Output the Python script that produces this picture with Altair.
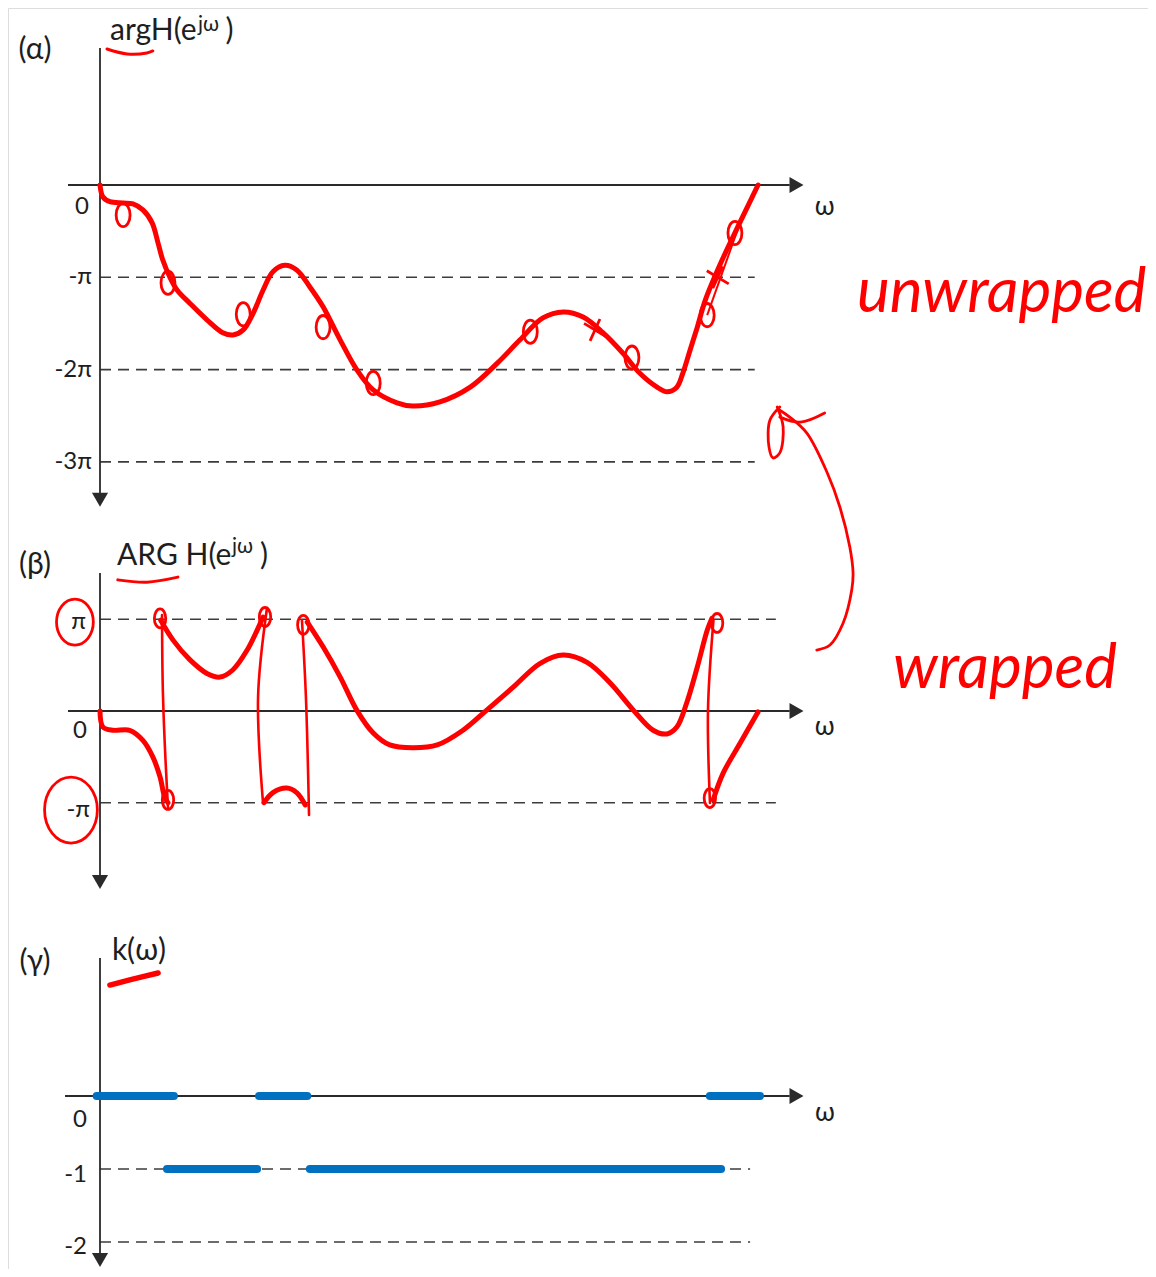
import altair as alt
import pandas as pd

# ---------------------------------------------------------------- data
# horizontal position: ω normalised so the plotted frequency range runs 0 -> 1
# phase values are in units of π

# (α) unwrapped phase argH(e^{jω})
alpha_w = [0, 0.0045, 0.015, 0.035, 0.05, 0.065, 0.079, 0.088, 0.095, 0.106, 0.117, 0.136,
           0.162, 0.186, 0.2015, 0.217, 0.232, 0.247, 0.262, 0.28, 0.298, 0.318, 0.338, 0.364,
           0.389, 0.414, 0.45, 0.474, 0.515, 0.561, 0.602, 0.636, 0.671, 0.702, 0.732, 0.762,
           0.792, 0.818, 0.844, 0.859, 0.874, 0.883, 0.894, 0.905, 0.917, 0.939, 0.970, 0.997]
alpha_phase = [0, -0.13, -0.18, -0.195, -0.205, -0.27, -0.41, -0.63, -0.81, -1.0, -1.14, -1.28,
               -1.46, -1.60, -1.625, -1.57, -1.39, -1.14, -0.94, -0.87, -0.92, -1.105, -1.32, -1.68,
               -2.0, -2.22, -2.36, -2.395, -2.35, -2.19, -1.93, -1.68, -1.44, -1.375, -1.43, -1.60,
               -1.82, -2.04, -2.19, -2.24, -2.19, -2.04, -1.79, -1.54, -1.25, -0.87, -0.40, 0.0]
alpha_ticks = [-1, -2, -3]
alpha_tick_labels = ["-π", "-2π", "-3π"]
alpha_loops_w = [0.035, 0.103, 0.217, 0.338, 0.414, 0.652, 0.806, 0.92, 0.962]
alpha_loops_v = [-0.325, -1.06, -1.40, -1.54, -2.145, -1.59, -1.87, -1.41, -0.52]
alpha_cross_w = [0.75, 0.936]
alpha_cross_v = [-1.57, -1.0]
alpha_trace_w = [0.92, 0.967]
alpha_trace_v = [-1.41, -0.466]
alpha_ul_w = [0.0106, 0.041, 0.071, 0.080]
alpha_ul_v = [1.473, 1.419, 1.43, 1.452]

# (β) wrapped phase ARG H(e^{jω}) – continuous pieces
beta_segments_w = [
    [0, 0.0045, 0.02, 0.045, 0.065, 0.08, 0.091, 0.098, 0.103],
    [0.092, 0.111, 0.136, 0.162, 0.182, 0.2015, 0.223, 0.238, 0.247],
    [0.2485, 0.262, 0.283, 0.298, 0.311],
    [0.314, 0.338, 0.364, 0.389, 0.414, 0.439, 0.474, 0.511, 0.55, 0.586, 0.626, 0.667,
     0.702, 0.738, 0.773, 0.808, 0.838, 0.859, 0.874, 0.889, 0.905, 0.92, 0.927],
    [0.929, 0.944, 0.97, 0.997],
]
beta_segments_v = [
    [0, -0.175, -0.21, -0.21, -0.32, -0.50, -0.72, -0.94, -1.0],
    [0.99, 0.77, 0.56, 0.41, 0.37, 0.45, 0.665, 0.88, 1.025],
    [-1.0, -0.89, -0.84, -0.89, -1.025],
    [0.97, 0.70, 0.37, 0.01, -0.24, -0.37, -0.40, -0.37, -0.21, 0.01, 0.26, 0.52,
     0.61, 0.53, 0.305, 0.01, -0.21, -0.25, -0.175, 0.09, 0.48, 0.88, 1.01],
    [-0.97, -0.68, -0.35, -0.01],
]
# hand-drawn 2π jumps
beta_jumps_w = [[0.094, 0.0955, 0.103], [0.253, 0.2395, 0.247],
                [0.306, 0.312, 0.3167], [0.9295, 0.9212, 0.9242]]
beta_jumps_v = [[1.047, 0.153, -1.047], [1.123, 0.153, -1.0],
                [0.99, 0.153, -1.134], [0.992, 0.011, -1.003]]
beta_ticks = [1, -1]
beta_tick_labels = ["π", "-π"]
beta_loops_w = [0.091, 0.25, 0.308, 0.103, 0.935, 0.924]
beta_loops_v = [1.01, 1.025, 0.94, -0.97, 0.96, -0.95]
beta_ul_w = [0.027, 0.071, 0.118]
beta_ul_v = [1.43, 1.405, 1.46]
# arrow from "wrapped" to "unwrapped"
arrow_w = [1.086, 1.106, 1.126, 1.139, 1.141, 1.136, 1.121, 1.102, 1.071, 1.045, 1.03]
arrow_v = [0.665, 0.72, 0.96, 1.32, 1.505, 1.79, 2.225, 2.595, 3.03, 3.205, 3.28]
arrow_head_w = [1.03, 1.015, 1.0136, 1.0197, 1.03, 1.035, 1.026]
arrow_head_v = [3.315, 3.17, 2.88, 2.76, 2.815, 3.10, 3.315]
arrow_wing_w = [1.03, 1.061, 1.098]
arrow_wing_v = [3.205, 3.15, 3.25]

# (γ) k(ω): integer multiple of 2π
k_start = [-0.005, 0.241, 0.924, 0.1015, 0.318]
k_end = [0.112, 0.314, 1.0, 0.238, 0.941]
k_value = [0, 0, 0, -1, -1]
gamma_ticks = [-1, -2]
gamma_tick_labels = ["-1", "-2"]
gamma_ul_w = [0.015, 0.045, 0.088]
gamma_ul_v = [1.52, 1.59, 1.685]

# ---------------------------------------------------------------- style
RED = "#ff0000"
BLUE = "#0070c0"
INK = "#1e1e1e"
AX = "#2a2a2a"
FONT = "Lato"
W, H = 1140, 1261

xs = alt.Scale(domain=[-92 / 660, 1048 / 660], nice=False, zero=False)
ysA = alt.Scale(domain=[-1084 / 92.3, 177 / 92.3], nice=False, zero=False)
ysB = alt.Scale(domain=[-558 / 91.7, 703 / 91.7], nice=False, zero=False)
ysC = alt.Scale(domain=[-173 / 73, 1088 / 73], nice=False, zero=False)

LOOP = ("M0,-1C0.331,-1 0.6,-0.552 0.6,0C0.6,0.552 0.331,1 0,1"
        "C-0.331,1 -0.6,0.552 -0.6,0C-0.6,-0.552 -0.331,-1 0,-1Z")
ELL = ("M0,-1C0.442,-1 0.8,-0.552 0.8,0C0.8,0.552 0.442,1 0,1"
       "C-0.442,1 -0.8,0.552 -0.8,0C-0.8,-0.552 -0.442,-1 0,-1Z")
XMARK = "M-1,-0.6L1,0.6M-0.45,1L0.45,-1"


def P(ys):
    return dict(x=alt.X("t:Q", scale=xs, axis=None), y=alt.Y("v:Q", scale=ys, axis=None))


def pts(w, v):
    return pd.DataFrame({"t": w, "v": v, "i": range(len(w))})


def segs(ws, vs):
    rows = []
    for s, (w, v) in enumerate(zip(ws, vs)):
        for i, (a, b) in enumerate(zip(w, v)):
            rows.append({"t": a, "v": b, "s": s, "i": i})
    return pd.DataFrame(rows)


def hrule(ys, t0, t1, vals, **kw):
    df = pd.DataFrame({"t": [t0] * len(vals), "t2": [t1] * len(vals), "v": vals})
    return alt.Chart(df).mark_rule(**kw).encode(**P(ys), x2="t2:Q")


def vrule(ys, t, v0, v1, **kw):
    df = pd.DataFrame({"t": [t], "v": [v0], "v2": [v1]})
    return alt.Chart(df).mark_rule(**kw).encode(**P(ys), y2="v2:Q")


def point(ys, w, v, **kw):
    return alt.Chart(pts(w, v)).mark_point(**kw).encode(**P(ys))


def text(ys, w, v, labels, **kw):
    df = pd.DataFrame({"t": w, "v": v, "label": labels})
    return alt.Chart(df).mark_text(**kw).encode(**P(ys), text="label:N")


def line(ys, df, detail=None, **kw):
    enc = dict(P(ys), order="i:Q")
    if detail:
        enc["detail"] = detail
    return alt.Chart(df).mark_line(**kw).encode(**enc)


axis_kw = dict(color=AX, strokeWidth=1.8)
dash_kw = dict(color="#3c3c3c", strokeWidth=1.6, strokeDash=[11, 7])
tick_kw = dict(font=FONT, fontSize=24, color=INK, baseline="middle")
omega_kw = dict(font=FONT, fontSize=26, color=INK, baseline="middle", align="center")
title_kw = dict(font=FONT, fontSize=30, color=INK, align="left", baseline="alphabetic")
sup_kw = dict(font=FONT, fontSize=21, color=INK, align="left", baseline="alphabetic")
tag_kw = dict(font=FONT, fontSize=30, color=INK, align="center", baseline="middle")
hand_kw = dict(font=FONT, fontSize=62, fontStyle="italic", color=RED, align="left",
               baseline="alphabetic")
curve_kw = dict(color=RED, strokeWidth=5, interpolate="catmull-rom", strokeCap="round",
                strokeJoin="round")
loop_kw = dict(shape=LOOP, filled=False, color=RED, strokeWidth=2.8, opacity=1)


def arrows(ys, t_right, v_down):
    right = point(ys, [t_right], [0], shape="triangle-right", filled=True, color=AX,
                  size=260, opacity=1)
    down = point(ys, [0], [v_down], shape="triangle-down", filled=True, color=AX,
                 size=260, opacity=1)
    return right, down


# ---------------------------------------------------------------- panel α
aR, aD = arrows(ysA, 1.0553, -3.41)
panelA = alt.layer(
    hrule(ysA, 0, 0.992, alpha_ticks, **dash_kw),
    hrule(ysA, -0.0485, 1.045, [0], **axis_kw),
    vrule(ysA, 0, 1.484, -3.36, **axis_kw),
    aR, aD,
    line(ysA, pts(alpha_w, alpha_phase), **curve_kw),
    line(ysA, pts(alpha_trace_w, alpha_trace_v), color=RED, strokeWidth=2),
    point(ysA, alpha_loops_w, alpha_loops_v, size=540, **loop_kw),
    point(ysA, alpha_cross_w, alpha_cross_v, shape=XMARK, filled=False, color=RED,
          strokeWidth=2.8, size=480, opacity=1),
    line(ysA, pts(alpha_ul_w, alpha_ul_v), color=RED, strokeWidth=3,
         interpolate="catmull-rom", strokeCap="round"),
    text(ysA, [-0.0273], [-0.238], ["0"], align="center", **tick_kw),
    text(ysA, [-0.0121] * 3, alpha_ticks, alpha_tick_labels, align="right", **tick_kw),
    text(ysA, [1.098], [-0.238], ["ω"], **omega_kw),
    text(ysA, [-0.0985], [1.463], ["(α)"], **tag_kw),
    text(ysA, [0.0152], [1.571], ["argH(e"], **title_kw),
    text(ysA, [0.1485], [1.668], ["jω"], **sup_kw),
    text(ysA, [0.19], [1.571], [")"], **title_kw),
    text(ysA, [1.147], [-1.376], ["unwrapped"], **hand_kw),
)

# ---------------------------------------------------------------- panel β
bR, bD = arrows(ysB, 1.0553, -1.865)
panelB = alt.layer(
    hrule(ysB, 0, 1.024, beta_ticks, **dash_kw),
    hrule(ysB, -0.0485, 1.045, [0], **axis_kw),
    vrule(ysB, 0, 1.505, -1.82, **axis_kw),
    bR, bD,
    line(ysB, segs(beta_segments_w, beta_segments_v), detail="s:N", **curve_kw),
    line(ysB, segs(beta_jumps_w, beta_jumps_v), detail="s:N", color=RED, strokeWidth=2.6,
         interpolate="catmull-rom", strokeCap="round"),
    point(ysB, beta_loops_w, beta_loops_v, size=360, **loop_kw),
    point(ysB, [-0.038], [0.97], shape=ELL, filled=False, color=RED, strokeWidth=2.8,
          size=2116, opacity=1),
    point(ysB, [-0.044], [-1.08], shape=ELL, filled=False, color=RED, strokeWidth=2.8,
          size=4356, opacity=1),
    line(ysB, pts(beta_ul_w, beta_ul_v), color=RED, strokeWidth=3,
         interpolate="catmull-rom", strokeCap="round"),
    line(ysB, pts(arrow_w, arrow_v), color=RED, strokeWidth=2.8,
         interpolate="catmull-rom", strokeCap="round"),
    line(ysB, pts(arrow_head_w, arrow_head_v), color=RED, strokeWidth=2.8,
         interpolate="catmull-rom", strokeCap="round"),
    line(ysB, pts(arrow_wing_w, arrow_wing_v), color=RED, strokeWidth=2.8,
         interpolate="catmull-rom", strokeCap="round"),
    text(ysB, [-0.0303], [-0.218], ["0"], align="center", **tick_kw),
    text(ysB, [-0.021, -0.015], [0.97, -1.08], beta_tick_labels, align="right", **tick_kw),
    text(ysB, [1.098], [-0.175], ["ω"], **omega_kw),
    text(ysB, [-0.0985], [1.592], ["(β)"], **tag_kw),
    text(ysB, [0.0258], [1.592], ["ARG H(e"], **title_kw),
    text(ysB, [0.2], [1.723], ["jω"], **sup_kw),
    text(ysB, [0.2424], [1.592], [")"], **title_kw),
    text(ysB, [1.2015], [0.25], ["wrapped"], **hand_kw),
)

# ---------------------------------------------------------------- panel γ
cR, cD = arrows(ysC, 1.0553, -2.247)
kdf = pd.DataFrame({"t": k_start, "t2": k_end, "v": k_value})
panelC = alt.layer(
    hrule(ysC, 0, 0.985, gamma_ticks, **dash_kw),
    hrule(ysC, -0.053, 1.045, [0], **axis_kw),
    vrule(ysC, 0, 1.89, -2.18, **axis_kw),
    cR, cD,
    alt.Chart(kdf).mark_rule(color=BLUE, strokeWidth=8, strokeCap="round").encode(
        **P(ysC), x2="t2:Q"),
    line(ysC, pts(gamma_ul_w, gamma_ul_v), color=RED, strokeWidth=5.5,
         interpolate="catmull-rom", strokeCap="round"),
    text(ysC, [-0.0303], [-0.33], ["0"], align="center", **tick_kw),
    text(ysC, [-0.0197] * 2, [-1.08, -2.07], gamma_tick_labels, align="right", **tick_kw),
    text(ysC, [1.0985], [-0.233], ["ω"], **omega_kw),
    text(ysC, [-0.0985], [1.836], ["(γ)"], **tag_kw),
    text(ysC, [0.018], [1.863], ["k(ω)"], **title_kw),
)

chart = (
    alt.layer(panelA, panelB, panelC)
    .resolve_scale(y="independent")
    .properties(width=W, height=H, autosize=alt.AutoSizeParams(type="none"), padding=0)
    .configure_view(stroke="transparent", strokeWidth=0)
    .configure(background="white")
)

chart.save("out.html", embed_options={"renderer": "svg", "actions": False})
